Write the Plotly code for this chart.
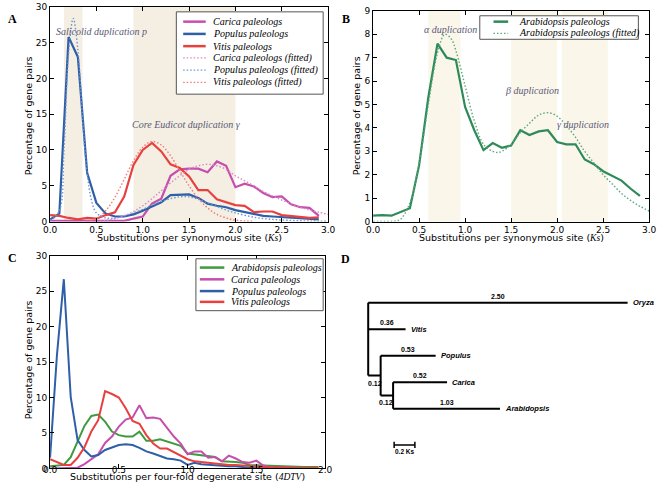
import plotly.graph_objects as go

# ---------------- DATA ----------------
# Panel A: Ks distributions (bins of 0.1)
ks_a = [round(0.1 * i, 1) for i in range(30)]
carica_a = [0.1, 0.1, 0.1, 0.1, 0.1, 0.1, 0.1, 0.1, 0.1, 0.4, 0.7, 2.5, 3.2, 6.4, 7.3, 7.4, 7.4, 6.9, 8.4, 7.8,
            4.8, 5.3, 4.9, 4.0, 3.4, 3.5, 2.4, 2.0, 1.9, 0.8]
populus_a = [0.3, 1.1, 25.8, 23.0, 6.8, 2.6, 1.1, 0.7, 0.7, 1.0, 1.5, 2.1, 2.7, 3.7, 3.7, 3.8, 3.3, 2.5, 2.2, 2.0,
             1.6, 1.3, 1.0, 0.8, 0.7, 0.6, 0.5, 0.4, 0.3, 0.3]
vitis_a = [0.9, 0.8, 0.5, 0.3, 0.5, 0.4, 0.9, 1.3, 3.5, 7.9, 10.0, 11.0, 9.8, 8.0, 7.5, 6.3, 4.4, 4.4, 3.1, 2.7,
           2.3, 2.2, 1.3, 1.4, 1.4, 0.9, 0.8, 0.7, 0.5, 0.6]

populus_fit_x = [0.0, 0.1, 0.15, 0.2, 0.25, 0.3, 0.35, 0.4, 0.45, 0.5, 0.6, 0.7, 0.8, 0.9, 1.0, 1.1, 1.2, 1.3, 1.4,
                 1.5, 1.6, 1.7, 1.8, 1.9, 2.0, 2.2, 2.4, 2.6, 2.8, 3.0]
populus_fit_y = [0.1, 1.5, 10.0, 23.5, 28.4, 24.0, 14.5, 6.8, 2.8, 1.2, 0.5, 0.5, 0.8, 1.2, 1.7, 2.3, 2.8, 3.2, 3.45,
                 3.45, 3.1, 2.6, 2.1, 1.6, 1.2, 0.6, 0.3, 0.15, 0.08, 0.04]
vitis_fit_x = [0.4, 0.5, 0.6, 0.7, 0.8, 0.9, 1.0, 1.1, 1.2, 1.3, 1.4, 1.5, 1.6, 1.7, 1.8, 1.9, 2.0, 2.2]
vitis_fit_y = [0.05, 0.4, 1.5, 3.4, 5.9, 8.5, 10.4, 11.2, 10.7, 9.2, 7.1, 5.0, 3.2, 1.9, 1.0, 0.5, 0.2, 0.03]
carica_fit_x = [0.5, 0.6, 0.7, 0.8, 0.9, 1.0, 1.1, 1.2, 1.3, 1.4, 1.5, 1.6, 1.7, 1.8, 1.9, 2.0, 2.1, 2.2, 2.3, 2.4,
                2.5, 2.6, 2.7, 2.8, 2.9, 3.0]
carica_fit_y = [0.05, 0.15, 0.4, 0.8, 1.4, 2.2, 3.2, 4.3, 5.4, 6.4, 7.3, 7.8, 8.0, 7.8, 7.3, 6.4, 5.7, 5.0, 4.2, 3.6,
                3.0, 2.5, 2.0, 1.6, 1.3, 1.0]

shade_a = [(0.15, 0.35), (0.9, 2.0)]

# Panel B: Arabidopsis Ks
ks_b = [round(0.1 * i, 1) for i in range(30)]
arab_b = [0.25, 0.27, 0.25, 0.4, 0.57, 2.4, 5.3, 7.6, 7.0, 6.9, 4.9, 3.9, 3.05, 3.35, 3.15, 3.25, 3.9, 3.7, 3.85, 3.9,
          3.4, 3.3, 3.3, 2.65, 2.45, 2.15, 1.95, 1.75, 1.4, 1.1]
arab_fit_x = [0.0, 0.25, 0.3, 0.4, 0.5, 0.6, 0.7, 0.78, 0.85, 0.9, 1.0, 1.1, 1.2, 1.3, 1.35, 1.4, 1.5, 1.6, 1.7, 1.8,
              1.9, 2.0, 2.1, 2.2, 2.3, 2.4, 2.5, 2.6, 2.7, 2.8, 2.9, 3.0]
arab_fit_y = [0.0, 0.03, 0.1, 0.8, 2.5, 5.0, 7.2, 8.0, 7.8, 7.3, 5.8, 4.3, 3.3, 3.0, 2.95, 3.0, 3.3, 3.8, 4.2, 4.55,
              4.65, 4.5, 4.1, 3.6, 3.0, 2.5, 2.0, 1.6, 1.2, 0.9, 0.65, 0.45]
shade_b = [(0.6, 0.95), (1.5, 2.0), (2.05, 2.55)]

# Panel C: 4DTV distributions (bins of 0.05)
dtv = [round(0.05 * i, 2) for i in range(40)]
arab_c = [0.3, 0.4, 0.5, 1.6, 3.8, 6.0, 7.4, 7.6, 6.6, 5.2, 4.7, 4.5, 4.5, 5.2, 3.9, 3.9, 4.1, 3.8, 3.4, 3.2,
          2.1, 2.0, 1.9, 1.7, 1.6, 1.0, 1.0, 0.9, 0.8, 0.5, 0.45, 0.4, 0.35, 0.3, 0.35, 0.25, 0.25, 0.2, 0.2, 0.2]
carica_c = [0.0, 0.0, 0.0, 0.0, 0.1, 0.6, 1.3, 2.0, 3.6, 4.5, 5.9, 6.9, 7.2, 8.9, 7.1, 7.2, 7.0, 5.8, 4.5, 3.5,
            2.0, 2.4, 2.4, 1.5, 1.6, 1.0, 1.8, 1.4, 0.9, 0.8, 1.1, 0.4, 0.2, 0.15, 0.1, 0.1, 0.05, 0.05, 0.05, 0.05]
populus_c = [1.5, 16.0, 26.7, 10.1, 4.0, 2.6, 1.7, 1.9, 2.6, 2.9, 3.3, 3.4, 3.3, 2.9, 2.4, 2.1, 1.8, 1.4, 1.3, 1.1,
             0.5, 0.8, 0.6, 0.5, 0.4, 0.4, 0.3, 0.3, 0.15, 0.1, 0.1, 0.1, 0.05, 0.05, 0.05, 0.05, 0.05, 0.03, 0.03, 0.03]
vitis_c = [1.3, 0.9, 0.5, 0.5, 1.5, 3.0, 5.2, 6.8, 10.9, 10.5, 10.0, 8.5, 6.7, 6.3, 4.7, 3.5, 2.8, 2.8, 2.3, 1.8,
           1.3, 1.0, 0.9, 0.7, 0.6, 0.5, 0.5, 0.5, 0.4, 0.3, 0.2, 0.2, 0.15, 0.1, 0.1, 0.05, 0.05, 0.05, 0.05, 0.05]

# Panel D: tree branch lengths (Ks)
taxa = ["Oryza", "Vitis", "Populus", "Carica", "Arabidopsis"]
leaf_len = [2.50, 0.36, 0.53, 0.52, 1.03]
internal_len = [0.12, 0.12]
scale_len = 0.2

# ---------------- STYLE ----------------
W, H = 662, 494
C_MAG = "#c64fae"
C_BLUE = "#2f5fa7"
C_RED = "#e8403f"
C_GREEN_B = "#2e8a58"
C_GREEN_C = "#3f9a3f"
F_MAG = "#d987c8"
F_BLUE = "#6f93cf"
F_RED = "#ee7a7a"
F_GREEN = "#5aa87c"
SERIF = "Liberation Serif"
SANS = "DejaVu Sans"
DOT = "1.5px,2px"


def fx(p):
    return p / W


def fy(p):
    return 1 - p / H


fig = go.Figure()

# Panel A traces
fig.add_trace(go.Scatter(x=ks_a, y=carica_a, mode="lines", line=dict(color=C_MAG, width=2.2), xaxis="x", yaxis="y"))
fig.add_trace(go.Scatter(x=ks_a, y=populus_a, mode="lines", line=dict(color=C_BLUE, width=2.2), xaxis="x", yaxis="y"))
fig.add_trace(go.Scatter(x=ks_a, y=vitis_a, mode="lines", line=dict(color=C_RED, width=2.2), xaxis="x", yaxis="y"))
fig.add_trace(go.Scatter(x=carica_fit_x, y=carica_fit_y, mode="lines", line=dict(color=F_MAG, width=1.4, dash=DOT, shape="spline"), xaxis="x", yaxis="y"))
fig.add_trace(go.Scatter(x=populus_fit_x, y=populus_fit_y, mode="lines", line=dict(color=F_BLUE, width=1.4, dash=DOT, shape="spline"), xaxis="x", yaxis="y"))
fig.add_trace(go.Scatter(x=vitis_fit_x, y=vitis_fit_y, mode="lines", line=dict(color=F_RED, width=1.4, dash=DOT, shape="spline"), xaxis="x", yaxis="y"))

# Panel B traces
fig.add_trace(go.Scatter(x=ks_b, y=arab_b, mode="lines", line=dict(color=C_GREEN_B, width=2.2), xaxis="x2", yaxis="y2"))
fig.add_trace(go.Scatter(x=arab_fit_x, y=arab_fit_y, mode="lines", line=dict(color=F_GREEN, width=1.4, dash=DOT, shape="spline"), xaxis="x2", yaxis="y2"))

# Panel C traces
fig.add_trace(go.Scatter(x=dtv, y=arab_c, mode="lines", line=dict(color=C_GREEN_C, width=2), xaxis="x3", yaxis="y3"))
fig.add_trace(go.Scatter(x=dtv, y=carica_c, mode="lines", line=dict(color=C_MAG, width=2), xaxis="x3", yaxis="y3"))
fig.add_trace(go.Scatter(x=dtv, y=populus_c, mode="lines", line=dict(color=C_BLUE, width=2), xaxis="x3", yaxis="y3"))
fig.add_trace(go.Scatter(x=dtv, y=vitis_c, mode="lines", line=dict(color=C_RED, width=2), xaxis="x3", yaxis="y3"))

# Panel D tree (coordinates derived from branch lengths)
leaf_y = list(range(len(taxa)))
n1x = internal_len[0]
n2x = n1x + internal_len[1]
start_x = [0.0, 0.0, n1x, n2x, n2x]
n2y = (leaf_y[3] + leaf_y[4]) / 2
n1y = (leaf_y[2] + n2y) / 2
tx, ty = [], []
for sx, ln, yy in zip(start_x, leaf_len, leaf_y):
    tx += [sx, sx + ln, None]
    ty += [yy, yy, None]
tx += [0, 0, None, 0, n1x, None, n1x, n1x, None, n1x, n2x, None, n2x, n2x, None]
ty += [leaf_y[0], n1y, None, n1y, n1y, None, leaf_y[2], n2y, None, n2y, n2y, None, leaf_y[3], leaf_y[4], None]
fig.add_trace(go.Scatter(x=tx, y=ty, mode="lines", line=dict(color="black", width=2), xaxis="x4", yaxis="y4"))
sb_x0, sb_y = 0.25, 5.37
fig.add_trace(go.Scatter(x=[sb_x0, sb_x0, None, sb_x0, sb_x0 + scale_len, None, sb_x0 + scale_len, sb_x0 + scale_len],
                         y=[sb_y - 0.12, sb_y + 0.12, None, sb_y, sb_y, None, sb_y - 0.12, sb_y + 0.12],
                         mode="lines", line=dict(color="black", width=1.5), xaxis="x4", yaxis="y4"))

annotations = []
shapes = []


def axstyle(**kw):
    d = dict(showline=True, mirror="ticks", linecolor="black", linewidth=1, ticks="inside", ticklen=4,
             tickcolor="black", showgrid=False, zeroline=False, tickfont=dict(family=SANS, size=9, color="black"))
    d.update(kw)
    return d


# Shading
for a, b in shade_a:
    shapes.append(dict(type="rect", xref="x", yref="y domain", x0=a, x1=b, y0=0, y1=1, fillcolor="#f4efe2",
                       line=dict(width=0), layer="below"))
for a, b in shade_b:
    shapes.append(dict(type="rect", xref="x2", yref="y2 domain", x0=a, x1=b, y0=0, y1=1, fillcolor="#faf6e9",
                       line=dict(width=0), layer="below"))


def legend(box, ys, xs0, xs1, xt, entries):
    shapes.append(dict(type="rect", xref="paper", yref="paper", x0=fx(box[0]), x1=fx(box[2]), y0=fy(box[3]),
                       y1=fy(box[1]), line=dict(color="#555", width=1), fillcolor="white"))
    for yy, (lab, col, dash, w) in zip(ys, entries):
        shapes.append(dict(type="line", xref="paper", yref="paper", x0=fx(xs0), x1=fx(xs1), y0=fy(yy), y1=fy(yy),
                           line=dict(color=col, width=w, dash=dash)))
        annotations.append(dict(xref="paper", yref="paper", x=fx(xt), y=fy(yy), text="<i>" + lab + "</i>",
                                showarrow=False, xanchor="left", yanchor="middle",
                                font=dict(family=SERIF, size=10, color="black")))


legend((173, 7, 323, 91), [17, 29.5, 42, 54, 66.5, 79], 180, 203, 208,
       [("Carica paleologs", C_MAG, "solid", 2.5), ("Populus paleologs", C_BLUE, "solid", 2.5),
        ("Vitis paleologs", C_RED, "solid", 2.5), ("Carica paleologs (fitted)", F_MAG, DOT, 1.4),
        ("Populus paleologs (fitted)", F_BLUE, DOT, 1.4), ("Vitis paleologs (fitted)", F_RED, DOT, 1.4)])
legend((483, 11, 645, 35), [17, 29], 497, 512, 521,
       [("Arabidopsis paleologs", C_GREEN_B, "solid", 2.5), ("Arabidopsis paleologs (fitted)", F_GREEN, DOT, 1.4)])
legend((193, 259, 323, 312), [268, 280, 292, 303], 197, 222, 227,
       [("Arabidopsis paleologs", C_GREEN_C, "solid", 2.5), ("Carica paleologs", C_MAG, "solid", 2.5),
        ("Populus paleologs", C_BLUE, "solid", 2.5), ("Vitis paleologs", C_RED, "solid", 2.5)])

# In-plot notes
note_font = dict(family=SERIF, size=10, color="#5a5a78")
for xr, yr, x, y, t in [("x", "y", 0.56, 26.6, "<i>Salicolid duplication p</i>"),
                        ("x", "y", 1.47, 13.6, "<i>Core Eudicot duplication γ</i>"),
                        ("x2", "y2", 0.84, 8.2, "<i>α duplication</i>"),
                        ("x2", "y2", 1.73, 5.6, "<i>β duplication</i>"),
                        ("x2", "y2", 2.28, 4.15, "<i>γ duplication</i>")]:
    annotations.append(dict(xref=xr, yref=yr, x=x, y=y, text=t, showarrow=False, font=note_font))

# Axis titles
tfont = dict(family=SANS, size=9.5, color="black")
ks_t = 'Substitutions per synonymous site (<span style="font-family:Liberation Serif"><i>Ks</i></span>)'
for x, y, t, ang in [(186, 237, ks_t, 0), (515, 237, ks_t, 0),
                     (184, 481, 'Substitutions per four-fold degenerate site (<span style="font-family:Liberation Serif"><i>4DTV</i></span>)', 0),
                     (22, 113, "Percentage of gene pairs", -90), (357, 113, "Percentage of gene pairs", -90),
                     (22, 362, "Percentage of gene pairs", -90)]:
    annotations.append(dict(xref="paper", yref="paper", x=fx(x), y=fy(y), text=t, showarrow=False, textangle=ang,
                            xanchor="center", yanchor="middle", font=tfont))

# Panel letters
for x, y, t in [(6, 14, "A"), (346, 14, "B"), (6, 258, "C"), (346, 259, "D")]:
    annotations.append(dict(xref="paper", yref="paper", x=fx(x), y=fy(y), text="<b>" + t + "</b>", showarrow=False,
                            xanchor="center", yanchor="middle", font=dict(family=SERIF, size=12, color="black")))

# Tree labels
num_font = dict(family="Liberation Sans", size=7, color="black")
tree_font = dict(family="Liberation Sans", size=7.5, color="black")
for sx, ln, yy, name in zip(start_x, leaf_len, leaf_y, taxa):
    annotations.append(dict(xref="x4", yref="y4", x=sx + ln, y=yy, text="<b><i>" + name + "</i></b>",
                            showarrow=False, xanchor="left", yanchor="middle", xshift=3, font=tree_font))
    annotations.append(dict(xref="x4", yref="y4", x=sx + ln / 2, y=yy, text="<b>%.2f</b>" % ln, showarrow=False,
                            xanchor="center", yanchor="bottom", yshift=1, font=num_font))
annotations.append(dict(xref="x4", yref="y4", x=internal_len[0] / 2 + 0.005, y=n1y, text="<b>%.2f</b>" % internal_len[0],
                        showarrow=False, xanchor="center", yanchor="top", yshift=-2, font=num_font))
annotations.append(dict(xref="x4", yref="y4", x=n1x + internal_len[1] / 2 - 0.005, y=n2y, text="<b>%.2f</b>" % internal_len[1],
                        showarrow=False, xanchor="center", yanchor="top", yshift=-2, font=num_font))
annotations.append(dict(xref="x4", yref="y4", x=sb_x0 + scale_len / 2, y=sb_y, text="<b>0.2 Ks</b>", showarrow=False,
                        xanchor="center", yanchor="top", yshift=-1, font=dict(family="Liberation Sans", size=6.5, color="black")))

ppu = 106.0
ppy = 27.0
fig.update_layout(
    width=W, height=H, margin=dict(l=0, r=0, t=0, b=0), showlegend=False,
    paper_bgcolor="white", plot_bgcolor="white", font=dict(color="black"),
    xaxis=axstyle(domain=[fx(44), fx(328)], range=[0, 3], tickvals=[0, 0.5, 1, 1.5, 2, 2.5, 3], tickformat=".1f", anchor="y"),
    yaxis=axstyle(domain=[fy(221), fy(2)], range=[0, 30], tickvals=[0, 5, 10, 15, 20, 25, 30], anchor="x"),
    xaxis2=axstyle(domain=[fx(374), fx(656)], range=[0, 3], tickvals=[0, 0.5, 1, 1.5, 2, 2.5, 3], tickformat=".1f", anchor="y2"),
    yaxis2=axstyle(domain=[fy(221), fy(6)], range=[0, 9], tickvals=list(range(10)), anchor="x2"),
    xaxis3=axstyle(domain=[fx(44), fx(325)], range=[0, 2], tickvals=[0, 0.5, 1, 1.5, 2], tickformat=".1f", anchor="y3",
                   ticklabelstandoff=-7),
    yaxis3=axstyle(domain=[fy(473), fy(256)], range=[0, 30], tickvals=[0, 5, 10, 15, 20, 25, 30], anchor="x3"),
    xaxis4=dict(domain=[fx(340), fx(662)], range=[(340 - 369) / ppu, (662 - 369) / ppu], visible=False, anchor="y4"),
    yaxis4=dict(domain=[fy(490), fy(250)], range=[(490 - 304) / ppy, (250 - 304) / ppy], visible=False, anchor="x4"),
    shapes=shapes, annotations=annotations,
)

fig.write_html("out.html", config={"displayModeBar": False},
               post_script="document.body.style.margin='0';document.body.style.padding='0';document.documentElement.style.overflow='hidden';")
